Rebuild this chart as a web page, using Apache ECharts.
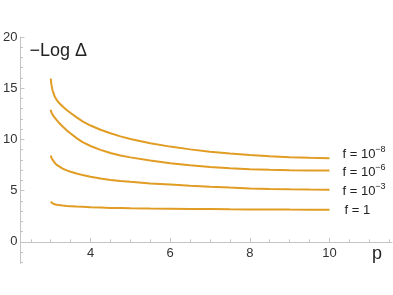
<!DOCTYPE html>
<html>
<head>
<meta charset="utf-8">
<script src="https://cdn.jsdelivr.net/npm/echarts@6/dist/echarts.min.js"></script>
<style>html,body{margin:0;padding:0;background:#fff;}#c{width:393px;height:295px;}</style>
</head>
<body>
<div id="c"></div>
<script>
const pVals   = [3, 3.01, 3.02, 3.035, 3.05, 3.075, 3.1, 3.15, 3.2, 3.3, 3.4, 3.5, 3.65, 3.8, 4, 4.25, 4.5, 4.75, 5, 5.5, 6, 6.5, 7, 7.5, 8, 8.5, 9, 9.5, 10];
const fMinus8 = [15.95, 15.55, 15.3, 15.0, 14.75, 14.48, 14.2, 13.86, 13.6, 13.22, 12.88, 12.58, 12.15, 11.77, 11.36, 10.95, 10.6, 10.3, 10.04, 9.63, 9.3, 9.03, 8.8, 8.62, 8.47, 8.35, 8.27, 8.21, 8.17];
const fMinus6 = [12.9, 12.7, 12.61, 12.5, 12.4, 12.25, 12.12, 11.88, 11.66, 11.26, 10.9, 10.58, 10.13, 9.74, 9.36, 8.98, 8.68, 8.44, 8.25, 7.94, 7.68, 7.48, 7.32, 7.19, 7.09, 7.03, 6.99, 6.97, 6.96];
const fMinus3 = [8.43, 8.3, 8.2, 8.09, 8.0, 7.85, 7.72, 7.52, 7.38, 7.15, 6.98, 6.84, 6.67, 6.52, 6.35, 6.18, 6.05, 5.94, 5.86, 5.71, 5.6, 5.49, 5.39, 5.3, 5.22, 5.16, 5.13, 5.11, 5.1];
const fOne    = [3.9, 3.85, 3.82, 3.78, 3.75, 3.7, 3.67, 3.62, 3.59, 3.55, 3.51, 3.49, 3.45, 3.42, 3.38, 3.35, 3.32, 3.3, 3.28, 3.25, 3.23, 3.21, 3.2, 3.18, 3.17, 3.16, 3.15, 3.145, 3.14];
const seriesLabels = ['{a|f = 10}{s|−8}', '{a|f = 10}{s|−6}', '{a|f = 10}{s|−3}', '{a|f = 1}'];
const xMajorTicks = [4, 6, 8, 10];
const xMinorTicks = [2.5, 3, 3.5, 4.5, 5, 5.5, 6.5, 7, 7.5, 8.5, 9, 9.5, 10.5, 11, 11.5];
const yMajorTicks = [0, 5, 10, 15, 20];
const yMinorTicks = [-2, -1, 1, 2, 3, 4, 6, 7, 8, 9, 11, 12, 13, 14, 16, 17, 18, 19];

const FONT = "'Liberation Sans', Arial, sans-serif";
const AXIS = '#c4c4c4';
const ORANGE = '#E19C24';

const allSeries = [fMinus8, fMinus6, fMinus3, fOne];
const labelOffsets = [[5, -4], [5, 1.5], [5, 1.5], [7, 0.5]];

const Y_MIN = -2.1, Y_MAX = 20;
const GRID_TOP = 37, GRID_BOTTOM = 31.6;
const plotH = 295 - GRID_TOP - GRID_BOTTOM;
const zeroOffset = -plotH * (0 - Y_MIN) / (Y_MAX - Y_MIN);

const chart = echarts.init(document.getElementById('c'), null, {renderer: 'canvas'});
const option = {
  animation: false,
  grid: {left: 19, right: 1, top: GRID_TOP, bottom: GRID_BOTTOM, containLabel: false},
  xAxis: [{
    type: 'value', min: 2.24, max: 11.57, position: 'bottom', offset: zeroOffset,
    axisLine: {show: true, onZero: false, lineStyle: {color: AXIS, width: 1}},
    axisTick: {show: true, inside: true, length: 4, lineStyle: {color: AXIS}, customValues: xMajorTicks},
    axisLabel: {show: true, customValues: xMajorTicks, margin: 5, color: '#333', fontSize: 13, fontFamily: FONT},
    splitLine: {show: false},
    name: 'p', nameLocation: 'end', nameGap: -15,
    nameTextStyle: {fontFamily: FONT, fontSize: 18, color: '#222', align: 'center', verticalAlign: 'top', padding: [3, 0, 0, 0]}
  }, {
    type: 'value', min: 2.24, max: 11.57, position: 'bottom', offset: zeroOffset,
    axisLine: {show: false, onZero: false},
    axisTick: {show: true, inside: true, length: 2.5, lineStyle: {color: AXIS}, customValues: xMinorTicks},
    axisLabel: {show: false},
    splitLine: {show: false}
  }],
  yAxis: [{
    type: 'value', min: Y_MIN, max: Y_MAX,
    axisLine: {show: true, onZero: false, lineStyle: {color: AXIS, width: 1}},
    axisTick: {show: true, inside: true, length: 4, lineStyle: {color: AXIS}, customValues: yMajorTicks},
    axisLabel: {show: true, customValues: yMajorTicks, margin: 3, color: '#333', fontSize: 13, fontFamily: FONT},
    splitLine: {show: false},
    name: '−Log Δ', nameLocation: 'end', nameGap: -5,
    nameTextStyle: {fontFamily: FONT, fontSize: 18, color: '#222', align: 'left', verticalAlign: 'top', padding: [0, 0, 0, 9]}
  }, {
    type: 'value', min: Y_MIN, max: Y_MAX, position: 'left',
    axisLine: {show: false, onZero: false},
    axisTick: {show: true, inside: true, length: 2.5, lineStyle: {color: AXIS}, customValues: yMinorTicks},
    axisLabel: {show: false},
    splitLine: {show: false}
  }],
  series: allSeries.map((vals, i) => ({
    type: 'line',
    data: pVals.map((p, j) => [p, vals[j]]),
    smooth: false,
    showSymbol: false,
    symbol: 'none',
    lineStyle: {color: ORANGE, width: 2},
    itemStyle: {color: ORANGE},
    silent: true,
    endLabel: {
      show: true,
      offset: labelOffsets[i],
      formatter: () => seriesLabels[i],
      rich: {
        a: {fontFamily: FONT, fontSize: 13, color: '#222'},
        s: {fontFamily: FONT, fontSize: 9, color: '#222', verticalAlign: 'top', padding: [0, 0, 9, 0]}
      }
    }
  }))
};
chart.setOption(option);
</script>
</body>
</html>
